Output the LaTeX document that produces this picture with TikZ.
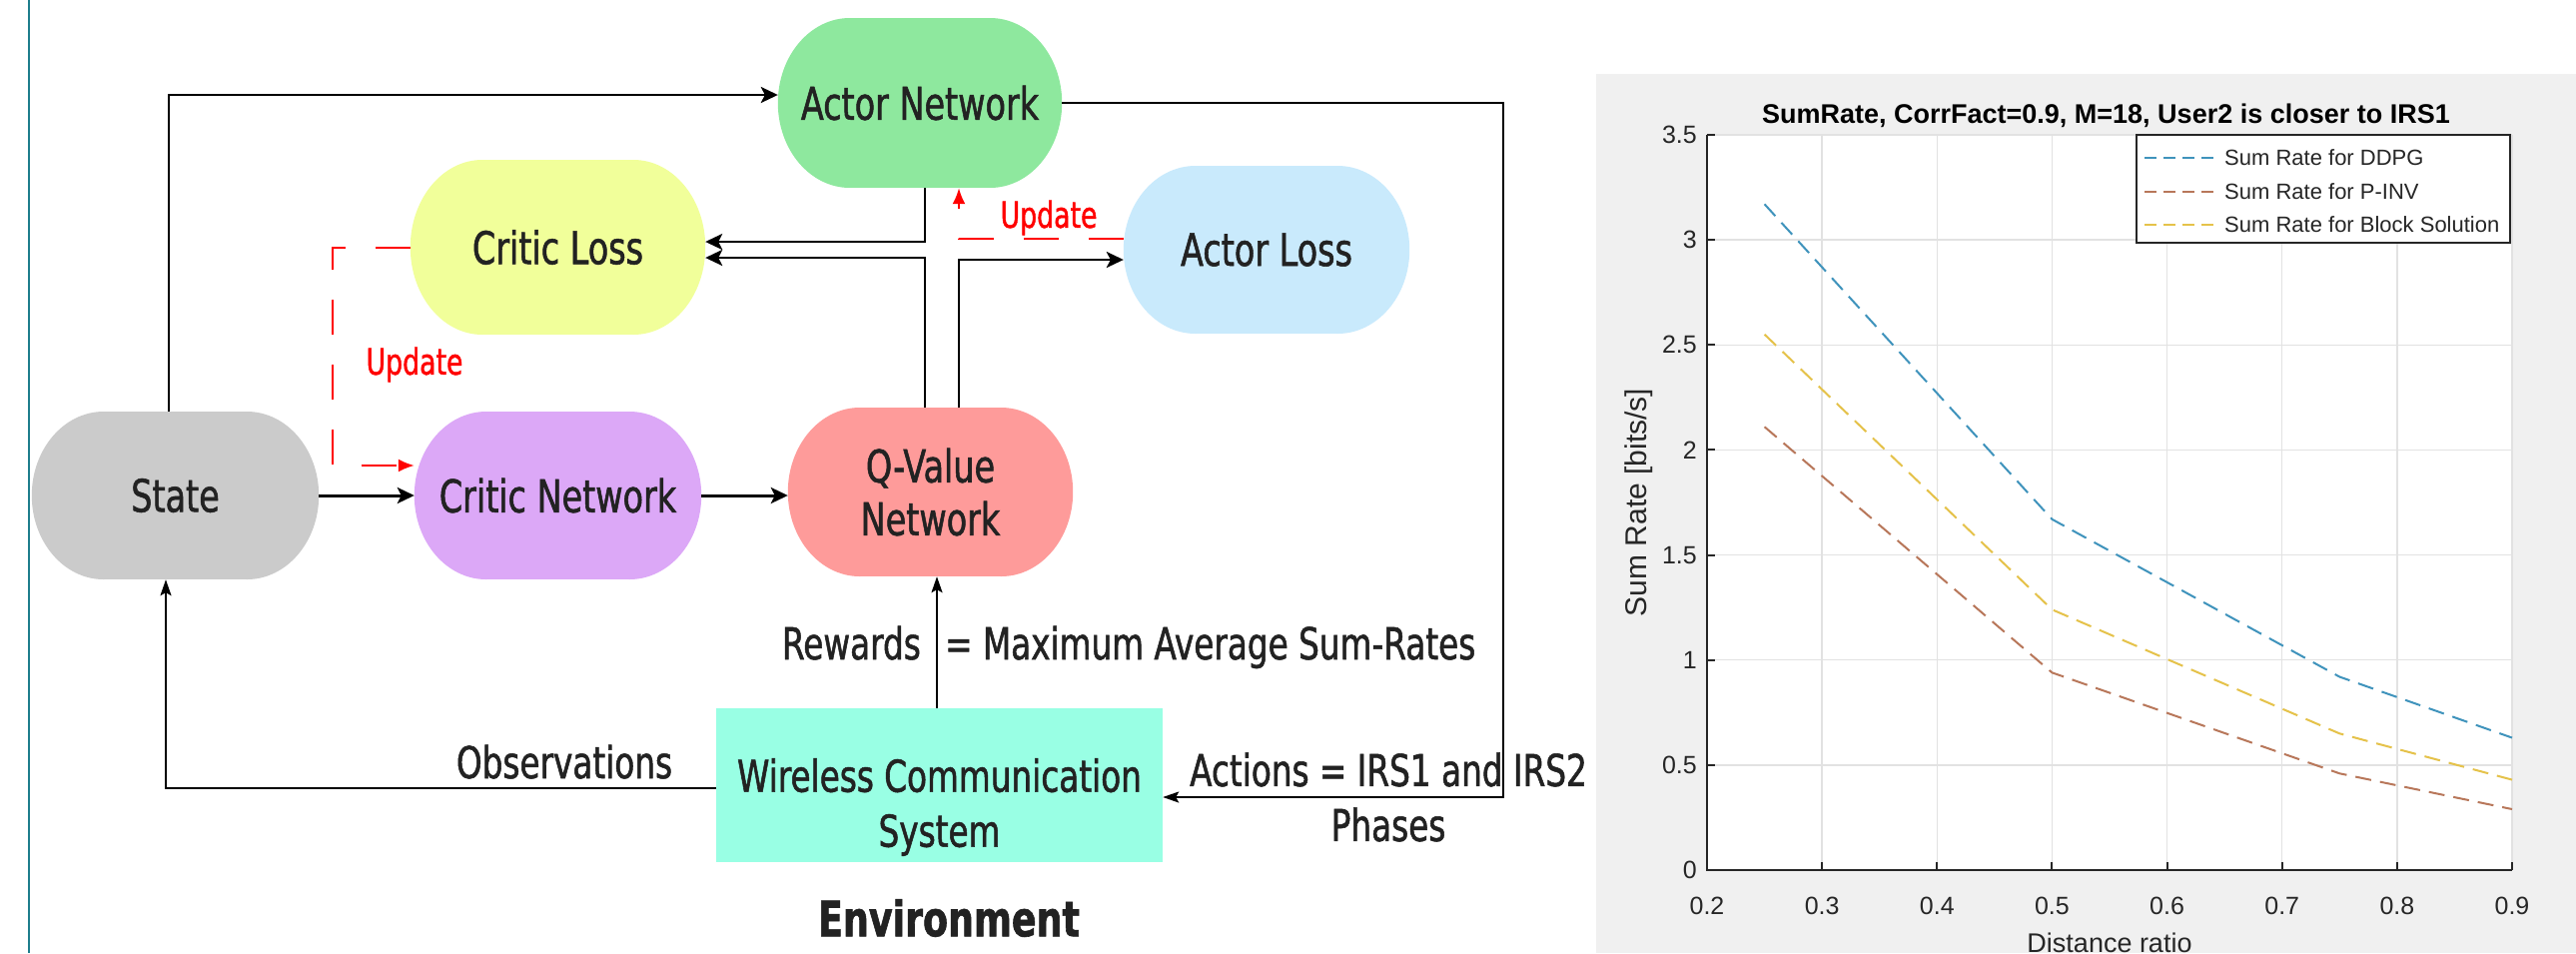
\documentclass[tikz,border=0pt]{standalone}
\usepackage{fontspec}
\usetikzlibrary{arrows.meta,calc}
\newfontfamily\dfont{DejaVu Sans}[FakeStretch=0.743, FakeBold=1.2]
\newfontfamily\cfont{Liberation Sans}
\definecolor{actorc}{HTML}{8EE89E}
\definecolor{clossc}{HTML}{F1FF9A}
\definecolor{alossc}{HTML}{C9EAFC}
\definecolor{statec}{HTML}{CBCBCB}
\definecolor{cnetc}{HTML}{DCA8F7}
\definecolor{qvalc}{HTML}{FE9B9A}
\definecolor{wirec}{HTML}{99FFE4}
\definecolor{txtc}{HTML}{222222}
\definecolor{figbg}{HTML}{F0F0F0}
\definecolor{gridc}{HTML}{E2E2E2}
\definecolor{axc}{HTML}{262626}
\definecolor{ddpgc}{HTML}{3F93BC}
\definecolor{pinvc}{HTML}{B8775A}
\definecolor{blockc}{HTML}{E5C24A}
\definecolor{edgec}{HTML}{1E7D8C}
\pgfdeclarelayer{bg}
\pgfsetlayers{bg,main}
\newcommand\barrelbg[4]{%
  \begin{pgfonlayer}{bg}
  \fill[#2] ($(#1.west)+(#3,0)$) ellipse[x radius=#3, y radius=#4];
  \fill[#2] ($(#1.east)+(-#3,0)$) ellipse[x radius=#3, y radius=#4];
  \fill[#2] ($(#1.north west)+(#3,0)$) rectangle ($(#1.south east)+(-#3,0)$);
  \end{pgfonlayer}}
\tikzset{
  netnode/.style={rectangle, inner sep=0pt, align=center, text=txtc,
    font=\dfont\fontsize{45}{53}\selectfont},
  lbl/.style={inner sep=0pt, text=txtc, font=\dfont\fontsize{44}{55}\selectfont},
  updlbl/.style={inner sep=0pt, text=red, font=\dfont\fontsize{36}{40}\selectfont},
  conn/.style={draw=black, line width=2.4pt, -{Stealth[length=17pt,width=16pt,inset=4pt]}},
  thinarrow/.style={draw=black, line width=1.8pt, -{Stealth[length=16pt,width=11pt,inset=3pt]}},
  upd/.style={draw=red, line width=2pt, dash pattern=on 35pt off 30pt,
    -{Latex[length=16pt,width=13pt]}},
  gridline/.style={draw=gridc, line width=1.5pt},
  axisline/.style={draw=axc, line width=2pt},
  curve/.style={line width=2pt, dash pattern=on 16pt off 9pt},
  ticklbl/.style={inner sep=0pt, text=axc, font=\cfont\fontsize{25}{28}\selectfont},
}
\begin{document}
\begin{tikzpicture}[x=1pt, y=-1pt]
\useasboundingbox (0,0) rectangle (2579,954);
\clip (0,0) rectangle (2579,954);
\begin{pgfonlayer}{bg}
\fill[white] (0,0) rectangle (2579,954);
\end{pgfonlayer}
% left edge line
\draw[edgec, line width=2.5pt] (29,0) -- (29,954);

% ---------- diagram nodes ----------
\node[netnode, minimum width=284pt, minimum height=170pt] (actor) at (921,103) {Actor Network};
\barrelbg{actor}{actorc}{72}{85}
\node[netnode, minimum width=295pt, minimum height=175pt] (closs) at (558.5,247.5) {Critic Loss};
\barrelbg{closs}{clossc}{72}{87.5}
\node[netnode, minimum width=286pt, minimum height=168pt] (aloss) at (1268,250) {Actor Loss};
\barrelbg{aloss}{alossc}{72}{84}
\node[netnode, minimum width=287pt, minimum height=168pt] (state) at (175.5,496) {State};
\barrelbg{state}{statec}{72}{84}
\node[netnode, minimum width=287pt, minimum height=168pt] (cnet) at (558.5,496) {Critic Network};
\barrelbg{cnet}{cnetc}{72}{84}
\node[netnode, minimum width=285pt, minimum height=169pt] (qval) at (931.5,492.5) {Q-Value\\Network};
\barrelbg{qval}{qvalc}{72}{84.5}
\node[rectangle, fill=wirec, inner sep=0pt, minimum width=447pt, minimum height=154pt] (wireless) at (940.5,786) {};
\node[lbl, align=center] (wtxt) at (940.5,808) {Wireless Communication\\System};

% ---------- connectors ----------
\coordinate (rtop) at (1505,103);
\coordinate (rl) at (333,466);
\draw[conn] ([xshift=-6.5pt]state.north) |- ([yshift=8pt]actor.west);
\draw[thinarrow] (actor.east) -- (rtop) |- ([yshift=-12pt]wireless.east);
\draw[conn] ([xshift=5pt]actor.south) |- ([yshift=5.5pt]closs.east);
\draw[conn] ([xshift=-5.5pt]qval.north) |- ([yshift=-10.5pt]closs.east);
\draw[conn] ([xshift=28.5pt]qval.north) |- ([yshift=-10pt]aloss.west);
\draw[upd] ([yshift=11pt]aloss.west) -| ([xshift=39pt]actor.south);
\draw[upd] (closs.west) -| (rl) -- ([yshift=30pt]cnet.west);
\draw[conn, line width=3pt] (state.east) -- (cnet.west);
\draw[conn, line width=3pt] (cnet.east) -- (cnet.east -| qval.west);
\draw[thinarrow] ([xshift=-2.5pt]wireless.north) -- ([xshift=-2.5pt]wireless.north |- qval.south);
\draw[thinarrow] ([yshift=-3pt]wireless.west) -| ([xshift=-9.5pt]state.south);

% ---------- labels ----------
\node[updlbl] (upd1) at (415,365) {Update};
\node[updlbl] (upd2) at (1050,218) {Update};
\node[lbl, anchor=base] (obs) at (565,779) {Observations};
\node[lbl, anchor=base east] (rew) at (922,660) {Rewards};
\node[lbl, anchor=base west] (rew2) at (946,660) {= Maximum Average Sum-Rates};
\node[lbl, align=center] (act) at (1390,798) {Actions = IRS1 and IRS2\\Phases};
\node[lbl, font=\dfont\bfseries\fontsize{49}{55}\selectfont] (env) at (950,919) {Environment};

% ---------- chart ----------
\fill[figbg] (1598,74) rectangle (2579,954);
\begin{scope}[shift={(1478.71,871)}, x=1151.43pt, y=210.29pt]
  \fill[white] (0.2,0) rectangle (0.9,3.5);
  \foreach \v in {0.3,0.4,0.5,0.6,0.7,0.8,0.9} \draw[gridline] (\v,0) -- (\v,3.5);
  \foreach \r in {0.5,1,1.5,2,2.5,3,3.5} \draw[gridline] (0.2,\r) -- (0.9,\r);
  \draw[curve, ddpgc] (0.25,3.17) -- (0.5,1.67) -- (0.75,0.92) -- (0.9,0.63);
  \draw[curve, pinvc] (0.25,2.11) -- (0.5,0.94) -- (0.75,0.46) -- (0.9,0.29);
  \draw[curve, blockc] (0.25,2.55) -- (0.5,1.24) -- (0.75,0.65) -- (0.9,0.43);
  \draw[axisline] (0.2,3.5) -- (0.2,0) -- (0.9,0);
  \foreach \v in {0.2,0.3,0.4,0.5,0.6,0.7,0.8,0.9} {
    \draw[axisline] (\v,0) -- ++(0,8pt);
    \node[ticklbl, anchor=base] at (\v,-0.2092) {\v};
  }
  \foreach \r in {0,0.5,1,1.5,2,2.5,3,3.5} {
    \draw[axisline] (0.2,\r) -- ++(8pt,0);
    \node[ticklbl, anchor=east] at (0.1913,\r) {\r};
  }
\end{scope}
\node[inner sep=0pt, text=black, font=\cfont\bfseries\fontsize{27}{30}\selectfont, anchor=base] (title) at (2108.5,123) {SumRate, CorrFact=0.9, M=18, User2 is closer to IRS1};
\node[inner sep=0pt, text=axc, rotate=90, font=\cfont\fontsize{30}{33}\selectfont] (ylab) at (1641,503) {Sum Rate [bits/s]};
\node[inner sep=0pt, text=axc, anchor=base, font=\cfont\fontsize{27}{30}\selectfont] (xlab) at (2112,953) {Distance ratio};
% legend
\node[draw=axc, line width=1.5pt, fill=white, inner sep=0pt, minimum width=374pt, minimum height=108pt] (legend) at (2326,189) {};
\draw[line width=2pt, ddpgc, dash pattern=on 12pt off 7pt] (2147,158) -- (2218,158);
\draw[line width=2pt, pinvc, dash pattern=on 12pt off 7pt] (2147,192) -- (2218,192);
\draw[line width=2pt, blockc, dash pattern=on 12pt off 7pt] (2147,225) -- (2218,225);
\node[inner sep=0pt, anchor=west, text=axc, font=\cfont\fontsize{22}{24}\selectfont] (l1) at (2227,158) {Sum Rate for DDPG};
\node[inner sep=0pt, anchor=west, text=axc, font=\cfont\fontsize{22}{24}\selectfont] (l2) at (2227,192) {Sum Rate for P-INV};
\node[inner sep=0pt, anchor=west, text=axc, font=\cfont\fontsize{22}{24}\selectfont] (l3) at (2227,225) {Sum Rate for Block Solution};
\end{tikzpicture}
\end{document}
